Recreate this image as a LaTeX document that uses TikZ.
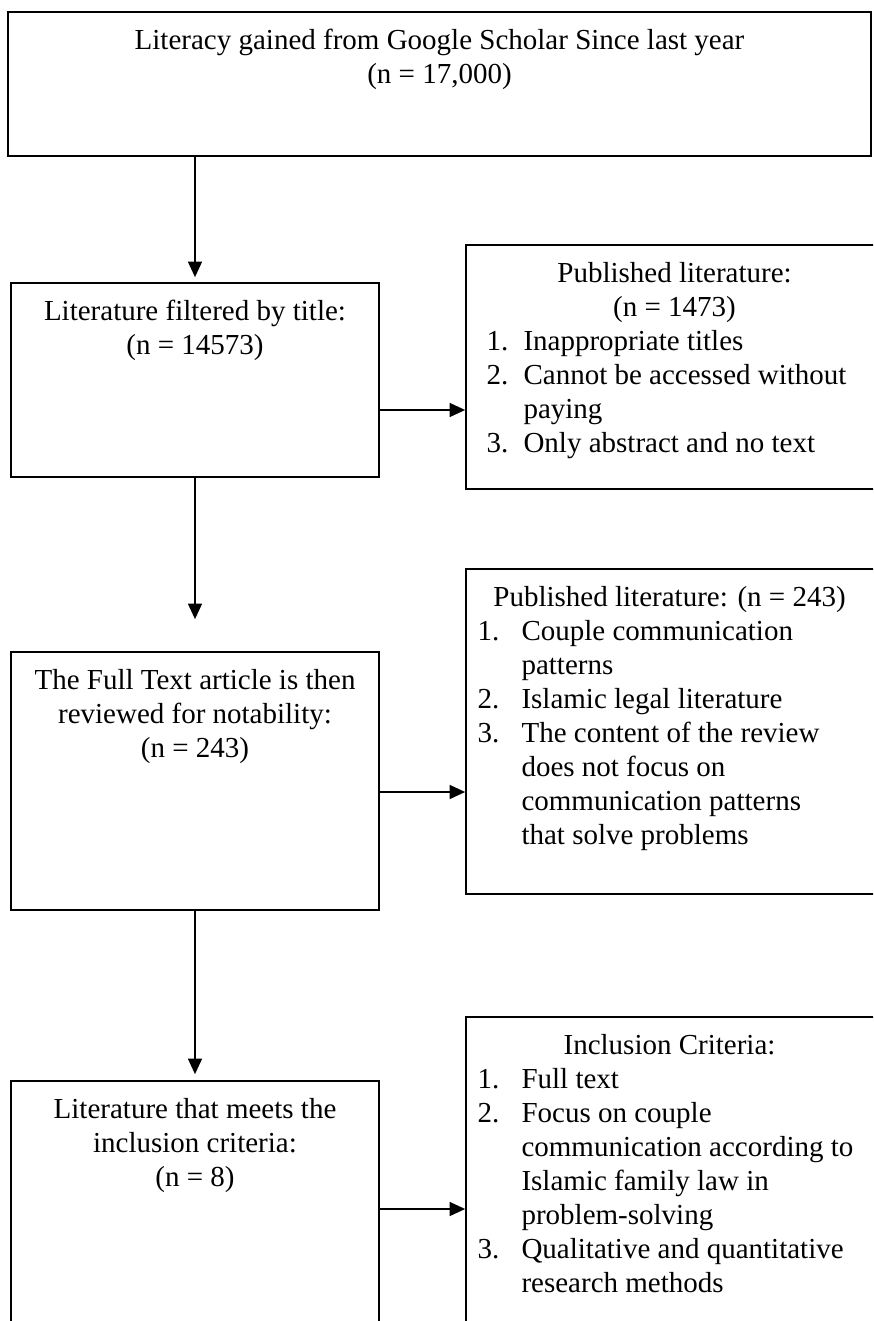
\documentclass[tikz,border=0pt]{standalone}
\usepackage{fontspec}
\setmainfont{Liberation Serif}
\usepackage{tikz}
\usetikzlibrary{arrows.meta, positioning}
\setlength{\parindent}{0pt}
\newcommand{\listno}[2][22pt]{\makebox[#1][l]{#2.}}

\begin{document}
\begin{tikzpicture}[x=0.5pt, y=-0.5pt, font=\fontsize{14.5}{17}\selectfont,
    box/.style={draw, line width=0.85pt, inner sep=0pt},
    boxtext/.style={inner sep=0pt, align=center},
    listtext/.style={inner sep=0pt, align=flush left},
    arrow/.style={line width=0.85pt, -{Triangle[length=7.8pt, width=7pt]}}]
    \useasboundingbox (0,0) rectangle (873,1321);
    \clip (0,0) rectangle (873,1321);

    \node[box, minimum width=431.5pt, minimum height=72pt] (search) at (439.5,84) {};
    \node[box, minimum width=184pt, minimum height=97pt] (filtered) at (195,380) {};
    \node[box, minimum width=184pt, minimum height=129pt] (fulltext) at (195,781) {};
    \node[box, minimum width=184pt, minimum height=130pt] (included) at (195,1211) {};
    \node[box, minimum width=205pt, minimum height=122pt] (excluded1) at (671,367) {};
    \node[box, minimum width=205pt, minimum height=162.5pt] (excluded2) at (671,731.5) {};
    \node[box, minimum width=205pt, minimum height=161.5pt] (criteria) at (671,1178.5) {};

    \node[boxtext, below=9pt of search.north] (search-text)
        {Literacy gained from Google Scholar Since last year\\(n = 17,000)};
    \node[boxtext, below=9pt of filtered.north] (filtered-text)
        {Literature filtered by title:\\(n = 14573)};
    \node[boxtext, below=9pt of fulltext.north] (fulltext-text)
        {The Full Text article is then\\reviewed for notability:\\(n = 243)};
    \node[boxtext, below=9pt of included.north] (included-text)
        {Literature that meets the\\inclusion criteria:\\(n = 8)};

    \node[listtext, text width=188pt, below right=9pt and 10.5pt of excluded1.north west] (excluded1-text)
        {\makebox[188pt]{Published literature:}\\
         \makebox[188pt]{(n = 1473)}\\
         \listno[18.5pt]{1}Inappropriate titles\\
         \listno[18.5pt]{2}Cannot be accessed without\\
         \hspace*{18.5pt}paying\\
         \listno[18.5pt]{3}Only abstract and no text};
    \node[listtext, text width=192pt, below right=9pt and 6pt of excluded2.north west] (excluded2-text)
        {\makebox[192pt]{Published literature: (n = 243)}\\
         \listno{1}Couple communication\\
         \hspace*{22pt}patterns\\
         \listno{2}Islamic legal literature\\
         \listno{3}The content of the review\\
         \hspace*{22pt}does not focus on\\
         \hspace*{22pt}communication patterns\\
         \hspace*{22pt}that solve problems};
    \node[listtext, text width=192pt, below right=9pt and 6pt of criteria.north west] (criteria-text)
        {\makebox[192pt]{Inclusion Criteria:}\\
         \listno{1}Full text\\
         \listno{2}Focus on couple\\
         \hspace*{22pt}communication according to\\
         \hspace*{22pt}Islamic family law in\\
         \hspace*{22pt}problem-solving\\
         \listno{3}Qualitative and quantitative\\
         \hspace*{22pt}research methods};

    \coordinate (side1) at (0,410);
    \coordinate (side2) at (0,792);
    \coordinate (side3) at (0,1209);

    \draw[arrow] (search.south -| filtered.north) -- ([yshift=2.5pt]filtered.north);
    \draw[arrow] (filtered.south) -- ([yshift=16pt]fulltext.north);
    \draw[arrow] (fulltext.south) -- ([yshift=3pt]included.north);
    \draw[arrow] (filtered.east |- side1) -- (excluded1.west |- side1);
    \draw[arrow] (fulltext.east |- side2) -- (excluded2.west |- side2);
    \draw[arrow] (included.east |- side3) -- (criteria.west |- side3);
\end{tikzpicture}
\end{document}
